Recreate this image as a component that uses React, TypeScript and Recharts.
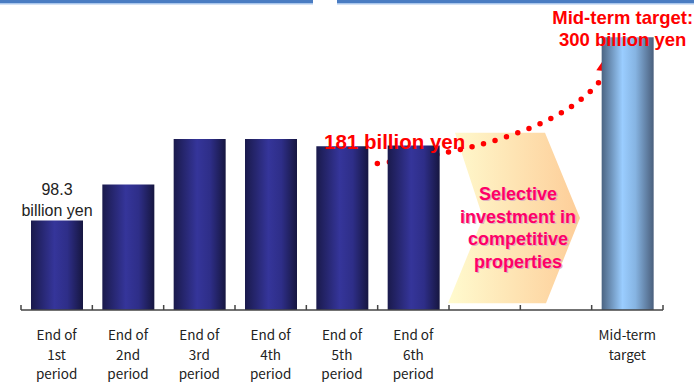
import React from "react";
import { BarChart, Bar, XAxis, YAxis, Cell, LabelList, Customized } from "recharts";

// ---- data ----
const categories = [
  "End of\n1st\nperiod",
  "End of\n2nd\nperiod",
  "End of\n3rd\nperiod",
  "End of\n4th\nperiod",
  "End of\n5th\nperiod",
  "End of\n6th\nperiod",
  "",
  "",
  "Mid-term\ntarget",
];
const values: (number | null)[] = [98.3, 138, 188, 188, 180, 181, null, null, 300];
const kinds = ["actual", "actual", "actual", "actual", "actual", "actual", "none", "none", "target"];
const valueLabels: Record<number, string[]> = {
  0: ["98.3", "billion yen"],
  5: ["181 billion yen"],
  8: ["Mid-term target:", "300 billion yen"],
};
const arrowText = ["Selective", "investment in", "competitive", "properties"];

const data = categories.map((c, i) => ({ idx: i, name: c, value: values[i], kind: kinds[i] }));

// ---- layout ----
const W = 694;
const H = 383;
const M = { top: 19, right: 31, bottom: 0, left: 21 };
const AXIS_H = 73;
const Y_MAX = 320;
const plotW = W - M.left - M.right;
const plotH = H - M.top - M.bottom - AXIS_H;
const band = plotW / categories.length;
const xCenter = (i: number) => M.left + band * (i + 0.5);
const xEdge = (i: number) => M.left + band * i;
const yOf = (v: number) => M.top + plotH * (1 - v / Y_MAX);

const CatTick = (props: any) => {
  const { x, y, payload, index } = props;
  const i = Number(payload.value);
  const lines = String(categories[i] ?? "").split("\n");
  return (
    <g>
      <line x1={x - band / 2} x2={x - band / 2} y1={y} y2={y - 5} stroke="#444" strokeWidth={1.5} />
      {i === categories.length - 1 ? (
        <line x1={x + band / 2} x2={x + band / 2} y1={y} y2={y - 5} stroke="#444" strokeWidth={1.5} />
      ) : null}
      {lines.map((l, k) =>
        l ? (
          <text
            key={k}
            x={x}
            y={y + 30 + k * 19.5}
            textAnchor="middle"
            fontFamily="'Noto Sans CJK JP', 'DejaVu Sans', sans-serif"
            fontSize={13.5}
            fill="#222"
          >
            {l}
          </text>
        ) : null
      )}
    </g>
  );
};

const ValueLabel = (props: any) => {
  const { x, y, width, value } = props;
  const idx = Number(value);
  const lines = valueLabels[idx];
  if (!lines) return null;
  const cx = x + width / 2;
  if (idx === 0) {
    return (
      <g fontFamily="'Liberation Sans', Arial, sans-serif" fontSize={16} fill="#222" textAnchor="middle">
        <text x={cx} y={y - 26}>{lines[0]}</text>
        <text x={cx} y={y - 5}>{lines[1]}</text>
      </g>
    );
  }
  if (idx === 5) {
    return (
      <text
        x={cx - 19}
        y={y + 4}
        textAnchor="middle"
        fontFamily="'Liberation Sans', Arial, sans-serif"
        fontWeight="bold"
        fontSize={20.5}
        fill="#ff0000"
      >
        {lines[0]}
      </text>
    );
  }
  return (
    <g fontFamily="'Liberation Sans', Arial, sans-serif" fontWeight="bold" fontSize={18.5} fill="#ff0000" textAnchor="middle">
      <text x={cx - 5} y={y - 13}>{lines[0]}</text>
      <text x={cx - 5} y={y + 9}>{lines[1]}</text>
    </g>
  );
};

const Decorations = () => {
  // chevron spanning the two empty slots
  const left = xEdge(6);
  const topY = yOf(195);
  const botY = yOf(7.5);
  const midY = (topY + botY) / 2;
  const chevron = [
    [left + 6, topY],
    [left + 96, topY],
    [left + 131, midY],
    [left + 97, botY],
    [left - 1, botY],
    [left + 34, midY],
  ]
    .map((p) => p.join(","))
    .join(" ");
  const tcx = left + 69;
  // dotted arrow from 6th bar to target bar
  const sx = xCenter(5) - 36;
  const sy = yOf(181) + 18;
  const ex = xCenter(8) - 23;
  const ey = yOf(300) + 38;
  const path = `M${sx},${sy} C${sx + 103},${sy - 12} ${ex - 34},${sy - 39} ${ex},${ey}`;
  return (
    <g>
      <defs>
        <linearGradient id="chev" x1="0" y1="0" x2="1" y2="0">
          <stop offset="0%" stopColor="#fffbcf" />
          <stop offset="100%" stopColor="#fdcd98" />
        </linearGradient>
      </defs>
      <rect x={0} y={0} width={313} height={3} fill="#4a7cc2" />
      <rect x={0} y={3} width={313} height={1.5} fill="#a9c6ec" />
      <rect x={337} y={0} width={W - 337} height={3} fill="#4a7cc2" />
      <rect x={337} y={3} width={W - 337} height={1.5} fill="#a9c6ec" />
      <polygon points={chevron} fill="url(#chev)" />
      <g fontFamily="'Liberation Sans', Arial, sans-serif" fontWeight="bold" fontSize={18} textAnchor="middle">
        {arrowText.map((t, k) => (
          <text key={"s" + k} x={tcx + 1.2} y={200 + k * 22.5 + 1.2} fill="#dcb2bf">
            {t}
          </text>
        ))}
        {arrowText.map((t, k) => (
          <text key={"t" + k} x={tcx} y={200 + k * 22.5} fill="#ff0066">
            {t}
          </text>
        ))}
      </g>
      <path d={path} fill="none" stroke="#ff0000" strokeWidth={5.5} strokeLinecap="round" strokeDasharray="0 12" />
      <polygon points={`${ex + 3},${ey - 21} ${ex - 8},${ey - 5} ${ex + 12},${ey - 3}`} fill="#ff0000" />
    </g>
  );
};

export default function App() {
  return (
    <div style={{ position: "absolute", left: 0, top: 0, width: W, height: H, background: "#fff" }}>
      <BarChart width={W} height={H} data={data} margin={M}>
        <defs>
          <linearGradient id="navy" x1="0" y1="0" x2="1" y2="0">
            <stop offset="0%" stopColor="#1a1a4c" />
            <stop offset="45%" stopColor="#35359a" />
            <stop offset="70%" stopColor="#2e2e88" />
            <stop offset="100%" stopColor="#161640" />
          </linearGradient>
          <linearGradient id="sky" x1="0" y1="0" x2="1" y2="0">
            <stop offset="0%" stopColor="#4b6482" />
            <stop offset="40%" stopColor="#9acdff" />
            <stop offset="65%" stopColor="#86b4e2" />
            <stop offset="100%" stopColor="#4a5f7c" />
          </linearGradient>
        </defs>
        <YAxis hide domain={[0, Y_MAX]} />
        <XAxis
          dataKey="idx"
          type="category"
          height={AXIS_H}
          axisLine={{ stroke: "#444", strokeWidth: 1.5 }}
          tickLine={false}
          tickSize={0}
          tickMargin={0}
          interval={0}
          tick={(p: any) => <CatTick {...p} />}
        />
        <Customized component={<Decorations />} />
        <Bar dataKey="value" barSize={52} isAnimationActive={false}>
          {data.map((d, i) => (
            <Cell key={i} fill={d.kind === "target" ? "url(#sky)" : "url(#navy)"} />
          ))}
          <LabelList dataKey="idx" content={(p: any) => <ValueLabel {...p} />} />
        </Bar>
      </BarChart>
    </div>
  );
}
